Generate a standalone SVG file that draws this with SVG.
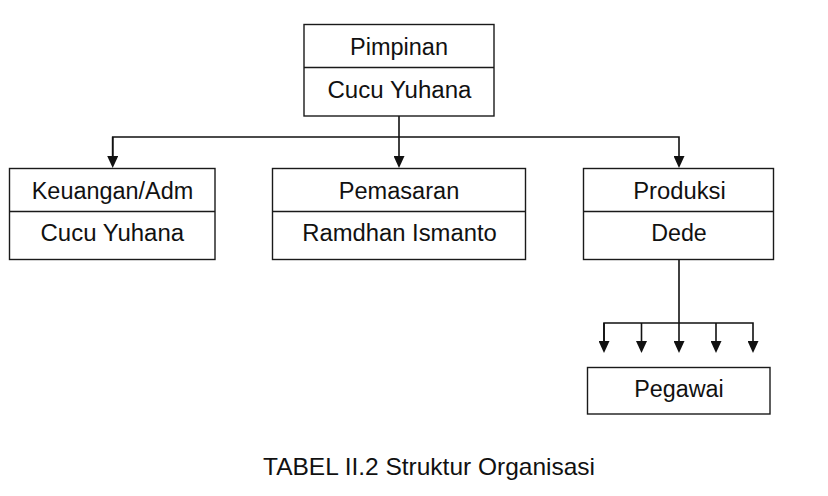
<svg xmlns="http://www.w3.org/2000/svg" width="828" height="496" viewBox="0 0 828 496">
<style>
.box{fill:#fff;stroke:#1a1a1a;stroke-width:1.4}
.div{stroke:#1a1a1a;stroke-width:1.4}
.lbl{font-family:"Liberation Sans",Arial,sans-serif;font-size:23px;fill:#111;text-anchor:middle}
.cap{font-family:"Liberation Sans",Arial,sans-serif;font-size:24px;fill:#111;text-anchor:middle}
.con{fill:none;stroke:#111;stroke-width:1.6}
</style>
<defs>
<marker id="ah" markerWidth="11" markerHeight="12" refX="5.5" refY="0" orient="0" markerUnits="userSpaceOnUse">
<path d="M0,0 L11,0 L5.5,12 Z" fill="#111"/>
</marker>
</defs>
<rect width="828" height="496" fill="#fff"/>
<g id="connectors">
<path class="con" d="M399,116 V156" marker-end="url(#ah)"/>
<path class="con" d="M112.7,156 V137 H679 V156" marker-end="url(#ah)"/>
<path class="con" d="M112.7,137 V156" marker-end="url(#ah)"/>
<path class="con" d="M679,259 V341"  marker-end="url(#ah)"/>
<path class="con" d="M604,341 V323 H753 V341" marker-end="url(#ah)"/>
<path class="con" d="M604,323 V341" marker-end="url(#ah)"/>
<path class="con" d="M641.5,323 V341" marker-end="url(#ah)"/>
<path class="con" d="M716,323 V341" marker-end="url(#ah)"/>
</g>
<g id="pimpinan">
<rect class="box" x="304" y="24.5" width="190" height="91.5"/>
<line class="div" x1="304" y1="67.5" x2="494" y2="67.5"/>
<text class="lbl" x="399" y="55" textLength="98" lengthAdjust="spacingAndGlyphs">Pimpinan</text>
<text class="lbl" x="399.5" y="97.5" textLength="144" lengthAdjust="spacingAndGlyphs">Cucu Yuhana</text>
</g>
<g id="keuangan">
<rect class="box" x="9.5" y="168.5" width="205.5" height="91"/>
<line class="div" x1="9.5" y1="211.5" x2="215" y2="211.5"/>
<text class="lbl" x="112.5" y="198.5" textLength="161.5" lengthAdjust="spacingAndGlyphs">Keuangan/Adm</text>
<text class="lbl" x="112.3" y="241" textLength="143.5" lengthAdjust="spacingAndGlyphs">Cucu Yuhana</text>
</g>
<g id="pemasaran">
<rect class="box" x="272.5" y="168.5" width="253" height="91"/>
<line class="div" x1="272.5" y1="211.5" x2="525.5" y2="211.5"/>
<text class="lbl" x="399" y="198.5" textLength="120.5" lengthAdjust="spacingAndGlyphs">Pemasaran</text>
<text class="lbl" x="399.5" y="241" textLength="194.5" lengthAdjust="spacingAndGlyphs">Ramdhan Ismanto</text>
</g>
<g id="produksi">
<rect class="box" x="583.5" y="168.5" width="190" height="91"/>
<line class="div" x1="583.5" y1="211.5" x2="773.5" y2="211.5"/>
<text class="lbl" x="679.5" y="198.5" textLength="92.5" lengthAdjust="spacingAndGlyphs">Produksi</text>
<text class="lbl" x="679" y="241" textLength="55.5" lengthAdjust="spacingAndGlyphs">Dede</text>
</g>
<g id="pegawai">
<rect class="box" x="587.5" y="367.5" width="182.5" height="46.5"/>
<text class="lbl" x="679" y="397" textLength="89.5" lengthAdjust="spacingAndGlyphs">Pegawai</text>
</g>
<text class="cap" x="429" y="475" textLength="332" lengthAdjust="spacingAndGlyphs">TABEL II.2 Struktur Organisasi</text>
</svg>
